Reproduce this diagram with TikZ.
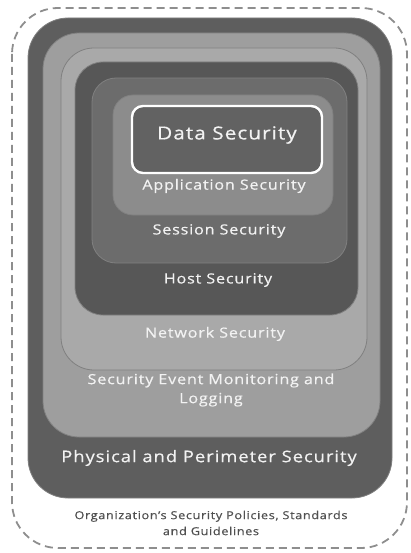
\documentclass[tikz,border=0pt]{standalone}
\usepackage{fontspec}
\setmainfont{Open Sans}[FakeStretch=1.15, LetterSpace=6, FakeBold=0.5]
\usepackage{xcolor}
\definecolor{ringDark}{HTML}{5E5E5E}
\definecolor{ringLight}{HTML}{9E9E9E}
\definecolor{ringPale}{HTML}{A9A9A9}
\definecolor{ringDeep}{HTML}{575757}
\definecolor{ringMid}{HTML}{6C6C6C}
\definecolor{ringSoft}{HTML}{8C8C8C}
\definecolor{coreFill}{HTML}{626262}
\definecolor{edgeGray}{HTML}{4A4A4A}
\definecolor{dashGray}{HTML}{8E8E8E}
\definecolor{noteGray}{HTML}{505050}
\tikzset{
  layer/.style={
    draw=edgeGray!70,
    line width=0.8pt
  },
  layer label/.style={
    text=white!95!black,
    inner sep=0pt,
    align=center
  }
}

\begin{document}
\begin{tikzpicture}[x=1pt,y=-1pt]
  \useasboundingbox (0,0) rectangle (410,553);

  % policy boundary
  \draw[dashGray, line width=1.8pt, dash pattern=on 8pt off 5pt, rounded corners=46pt]
    (12,8) rectangle (407,548);

  % nested rings, outer to inner
  \foreach \xa/\ya/\xb/\yb/\r/\col in {
      28/18/392/498/40/ringDark,
      43/33/380/437/36/ringLight,
      61/48/367/370/33/ringPale,
      75/62/358/315/28/ringDeep,
      92/78/347/263/24/ringMid,
      113/95/333/215/20/ringSoft}{
    \draw[layer, fill=\col, rounded corners=\r pt] (\xa,\ya) rectangle (\xb,\yb);
  }

  % core box
  \draw[fill=coreFill, draw=white, line width=2.4pt, rounded corners=11pt]
    (132,106) rectangle (322,173);

  \node[layer label, font=\fontsize{18}{20}\selectfont] (data) at (227,135) {Data Security};
  \node[layer label, font=\fontsize{14}{16}\selectfont] (app) at (224,186) {Application Security};
  \node[layer label, font=\fontsize{14}{16}\selectfont] (session) at (219,231) {Session Security};
  \node[layer label, font=\fontsize{14}{16}\selectfont] (host) at (218,280) {Host Security};
  \node[layer label, font=\fontsize{14}{16}\selectfont] (network) at (215,334) {Network Security};
  \node[layer label, font=\fontsize{14}{19}\selectfont] (monitor) at (211,390)
    {Security Event Monitoring and\\Logging};
  \node[layer label, font=\fontsize{16}{18}\selectfont] (perimeter) at (209,458)
    {Physical and Perimeter Security};
  \node[layer label, text=noteGray, font=\fontsize{11}{16}\selectfont] (policy) at (211,523)
    {Organization's Security Policies, Standards\\and Guidelines};
\end{tikzpicture}
\end{document}
